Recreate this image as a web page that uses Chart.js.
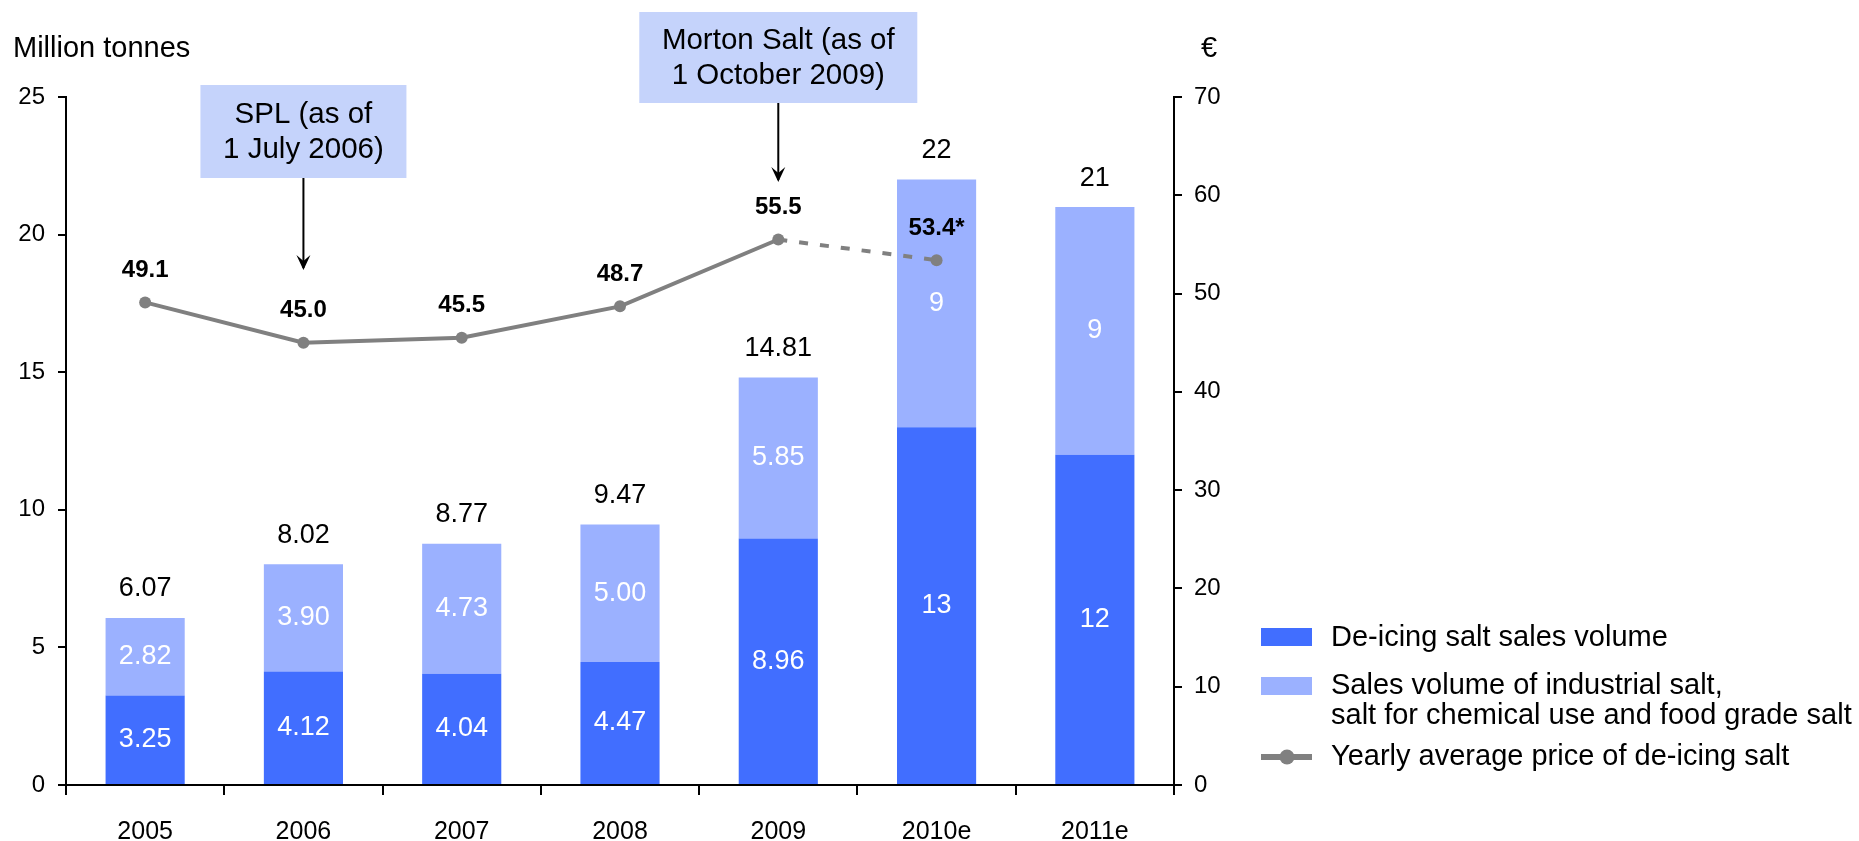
<!DOCTYPE html>
<html>
<head>
<meta charset="utf-8">
<title>Salt sales volume and de-icing salt price</title>
<script src="https://cdn.jsdelivr.net/npm/chart.js@4.4.0/dist/chart.umd.min.js"></script>
<style>
  html, body { margin: 0; padding: 0; background: #fff; }
  #wrap { width: 1859px; height: 841px; position: relative; }
</style>
</head>
<body>
<div id="wrap"><canvas id="saltChart" width="1859" height="841"></canvas></div>
<script>
const years = ['2005', '2006', '2007', '2008', '2009', '2010e', '2011e'];
const deIcingVolume = [3.25, 4.12, 4.04, 4.47, 8.96, 13, 12];
const industrialVolume = [2.82, 3.90, 4.73, 5.00, 5.85, 9, 9];
const deIcingLabels = ['3.25', '4.12', '4.04', '4.47', '8.96', '13', '12'];
const industrialLabels = ['2.82', '3.90', '4.73', '5.00', '5.85', '9', '9'];
const totalLabels = ['6.07', '8.02', '8.77', '9.47', '14.81', '22', '21'];
const avgPrice = [49.1, 45.0, 45.5, 48.7, 55.5, 53.4, null];
const priceLabels = ['49.1', '45.0', '45.5', '48.7', '55.5', '53.4*', ''];
const volumeTicks = [0, 5, 10, 15, 20, 25];
const priceTicks = [0, 10, 20, 30, 40, 50, 60, 70];
const callouts = [
    { year: '2006', lines: ['SPL (as of', '1 July 2006)'] },
    { year: '2009', lines: ['Morton Salt (as of', '1 October 2009)'] }
];
const legendLabels = [
    ['De-icing salt sales volume'],
    ['Sales volume of industrial salt,', 'salt for chemical use and food grade salt'],
    ['Yearly average price of de-icing salt']
];

const FONT = "'Liberation Sans', Arial, sans-serif";
const DARK_BLUE = '#416EFF';
const LIGHT_BLUE = '#9BB1FF';
const BOX_BLUE = '#C5D3FB';
const GREY = '#808080';

// labels on bars and line points
const valueLabels = {
    id: 'valueLabels',
    afterDatasetsDraw(chart) {
        const ctx = chart.ctx;
        const bottomMeta = chart.getDatasetMeta(0);
        const topMeta = chart.getDatasetMeta(1);
        const lineMeta = chart.getDatasetMeta(2);
        ctx.save();
        ctx.textAlign = 'center';
        ctx.textBaseline = 'middle';
        ctx.font = '27px ' + FONT;
        ctx.fillStyle = '#fff';
        bottomMeta.data.forEach((bar, i) => {
            ctx.fillText(deIcingLabels[i], bar.x, (bar.y + bar.base) / 2);
        });
        topMeta.data.forEach((bar, i) => {
            ctx.fillText(industrialLabels[i], bar.x, (bar.y + bar.base) / 2);
        });
        ctx.fillStyle = '#000';
        topMeta.data.forEach((bar, i) => {
            ctx.fillText(totalLabels[i], bar.x, bar.y - 29);
        });
        ctx.font = 'bold 24px ' + FONT;
        lineMeta.data.forEach((pt, i) => {
            if (avgPrice[i] === null) return;
            ctx.fillText(priceLabels[i], pt.x, pt.y - 32);
        });
        ctx.restore();
    }
};

// axis titles, callout boxes with arrows, legend
const extras = {
    id: 'extras',
    afterDraw(chart) {
        const ctx = chart.ctx;
        const x = chart.scales.x;
        ctx.save();
        ctx.fillStyle = '#000';
        ctx.font = '29px ' + FONT;
        ctx.textBaseline = 'middle';
        ctx.textAlign = 'left';
        ctx.fillText('Million tonnes', 13, 49);
        ctx.fillText('€', 1201, 49);

        const boxes = [
            { w: 206, top: 85, bottom: 178, tip: 270 },
            { w: 278, top: 12, bottom: 103, tip: 182 }
        ];
        callouts.forEach((c, k) => {
            const b = boxes[k];
            const cx = x.getPixelForValue(years.indexOf(c.year));
            ctx.fillStyle = BOX_BLUE;
            ctx.fillRect(cx - b.w / 2, b.top, b.w, b.bottom - b.top);
            ctx.fillStyle = '#000';
            ctx.textAlign = 'center';
            ctx.font = '29.5px ' + FONT;
            const mid = (b.top + b.bottom) / 2;
            ctx.fillText(c.lines[0], cx, mid - 17);
            ctx.fillText(c.lines[1], cx, mid + 18);
            ctx.strokeStyle = '#000';
            ctx.lineWidth = 2;
            ctx.beginPath();
            ctx.moveTo(cx, b.bottom);
            ctx.lineTo(cx, b.tip - 2);
            ctx.stroke();
            ctx.beginPath();
            ctx.moveTo(cx, b.tip);
            ctx.lineTo(cx - 7, b.tip - 15);
            ctx.lineTo(cx, b.tip - 9);
            ctx.lineTo(cx + 7, b.tip - 15);
            ctx.closePath();
            ctx.fill();
        });

        const lx = 1261;
        ctx.textAlign = 'left';
        ctx.font = '29px ' + FONT;
        ctx.fillStyle = DARK_BLUE;
        ctx.fillRect(lx, 628, 51, 18);
        ctx.fillStyle = LIGHT_BLUE;
        ctx.fillRect(lx, 677, 51, 18);
        ctx.strokeStyle = GREY;
        ctx.lineWidth = 6;
        ctx.beginPath();
        ctx.moveTo(lx, 757);
        ctx.lineTo(lx + 51, 757);
        ctx.stroke();
        ctx.fillStyle = GREY;
        ctx.beginPath();
        ctx.arc(lx + 26, 757, 7.5, 0, Math.PI * 2);
        ctx.fill();
        ctx.fillStyle = '#000';
        ctx.fillText(legendLabels[0][0], 1331, 638);
        ctx.fillText(legendLabels[1][0], 1331, 686);
        ctx.fillText(legendLabels[1][1], 1331, 716);
        ctx.fillText(legendLabels[2][0], 1331, 757);
        ctx.restore();
    }
};

new Chart(document.getElementById('saltChart'), {
    data: {
        labels: years,
        datasets: [
            {
                type: 'bar',
                label: 'De-icing salt sales volume',
                data: deIcingVolume,
                backgroundColor: DARK_BLUE,
                yAxisID: 'y',
                stack: 'vol',
                order: 1
            },
            {
                type: 'bar',
                label: 'Sales volume of industrial salt, salt for chemical use and food grade salt',
                data: industrialVolume,
                backgroundColor: LIGHT_BLUE,
                yAxisID: 'y',
                stack: 'vol',
                order: 1
            },
            {
                type: 'line',
                label: 'Yearly average price of de-icing salt',
                data: avgPrice,
                yAxisID: 'y1',
                borderColor: GREY,
                backgroundColor: GREY,
                borderWidth: 4,
                pointRadius: 6,
                pointBorderWidth: 0,
                spanGaps: false,
                order: 0,
                segment: {
                    borderDash: c => c.p0DataIndex === 4 ? [9, 12] : undefined
                }
            }
        ]
    },
    options: {
        responsive: false,
        animation: false,
        datasets: { bar: { categoryPercentage: 1, barPercentage: 0.5 } },
        layout: { padding: { top: 97, left: 0, right: 625, bottom: 0 } },
        plugins: { legend: { display: false }, tooltip: { enabled: false } },
        scales: {
            x: {
                stacked: true,
                grid: { display: true, drawOnChartArea: false, drawTicks: true, tickLength: 10, color: '#000', lineWidth: 2, offset: true },
                border: { display: true, color: '#000', width: 2 },
                ticks: { color: '#000', font: { family: FONT, size: 25 }, padding: 22 },
                afterFit: s => { s.height = 56; }
            },
            y: {
                position: 'left',
                stacked: true,
                min: 0,
                max: 25,
                afterBuildTicks: s => { s.ticks = volumeTicks.map(v => ({ value: v })); },
                grid: { drawOnChartArea: false, drawTicks: true, tickLength: 8, color: '#000', lineWidth: 2 },
                border: { display: true, color: '#000', width: 2 },
                ticks: { color: '#000', font: { family: FONT, size: 24 }, padding: 13 },
                afterFit: s => { s.width = 66; }
            },
            y1: {
                position: 'right',
                min: 0,
                max: 70,
                afterBuildTicks: s => { s.ticks = priceTicks.map(v => ({ value: v })); },
                grid: { drawOnChartArea: false, drawTicks: true, tickLength: 8, color: '#000', lineWidth: 2 },
                border: { display: true, color: '#000', width: 2 },
                ticks: { color: '#000', font: { family: FONT, size: 24 }, padding: 12 },
                afterFit: s => { s.width = 60; }
            }
        }
    },
    plugins: [valueLabels, extras]
});
</script>
</body>
</html>
